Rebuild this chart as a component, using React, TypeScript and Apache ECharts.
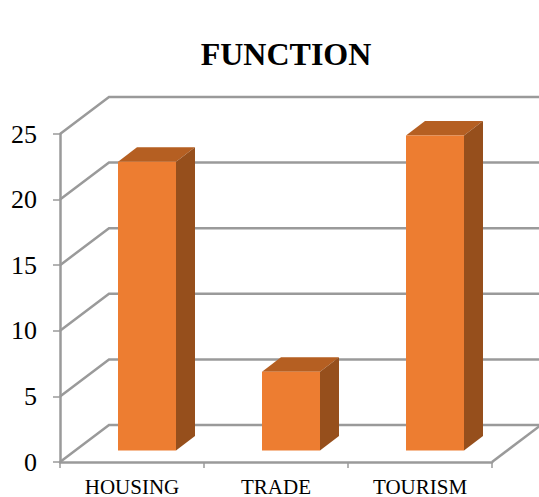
import React, { useEffect, useRef } from "react";
import * as echarts from "echarts";

const title = "FUNCTION";
const categories = ["HOUSING", "TRADE", "TOURISM"];
const values = [22, 6, 24];
const yTicks = [0, 5, 10, 15, 20, 25];

const GREY = "#9a9a9a";
const FRONT = "#ED7D31";
const TOP = "#B55F22";
const SIDE = "#964F1C";
const SERIF = '"Liberation Serif", "Times New Roman", serif';

const depthX = 49;
const depthY = 37;

export default function App() {
  const ref = useRef<HTMLDivElement>(null);
  useEffect(() => {
    const chart = echarts.init(ref.current!, undefined, { renderer: "svg" });
    chart.setOption({
      animation: false,
      title: {
        text: title,
        left: 281,
        textAlign: "center",
        top: 33,
        textStyle: { fontFamily: SERIF, fontSize: 32, fontWeight: "bold", color: "#000" },
      },
      grid: { left: 60, top: 134, width: 432, height: 328, containLabel: false },
      xAxis: {
        type: "category",
        data: categories,
        boundaryGap: true,
        axisLine: { show: true, lineStyle: { color: GREY, width: 2.5 } },
        axisTick: { show: true, length: 6, lineStyle: { color: GREY, width: 1.5 } },
        axisLabel: { fontFamily: SERIF, fontSize: 21, color: "#000", margin: 14 },
        splitLine: { show: false },
      },
      yAxis: {
        type: "value",
        min: 0,
        max: 25,
        interval: 5,
        axisLine: { show: true, lineStyle: { color: GREY, width: 2.5 } },
        axisTick: { show: true, length: 7, lineStyle: { color: GREY, width: 1.5 } },
        axisLabel: { fontFamily: SERIF, fontSize: 26, color: "#000", margin: 23, padding: [2, 0, 0, 0] },
        splitLine: { show: false },
      },
      series: [
        {
          type: "custom",
          silent: true,
          z: 1,
          clip: false,
          data: yTicks.map((t) => [0, t]),
          encode: { x: 0, y: 1 },
          renderItem: (_p: any, api: any) => {
            const band = api.size([1, 0])[0];
            const [cx, y] = api.coord([0, api.value(1)]);
            const x0 = cx - band / 2;
            const x1 = x0 + band * categories.length;
            const children: any[] = [
              {
                type: "polyline",
                shape: {
                  points: [
                    [x0, y],
                    [x0 + depthX, y - depthY],
                    [x1 + depthX, y - depthY],
                  ],
                },
                style: { fill: "none", stroke: GREY, lineWidth: 2.5 },
              },
            ];
            if (api.value(1) === 0) {
              children.push({
                type: "line",
                shape: { x1: x1, y1: y, x2: x1 + depthX, y2: y - depthY },
                style: { stroke: GREY, lineWidth: 2.5 },
              });
            }
            return { type: "group", children };
          },
        },
        {
          type: "custom",
          silent: true,
          z: 2,
          clip: false,
          data: values.map((v, i) => [i, v]),
          encode: { x: 0, y: 1 },
          renderItem: (_p: any, api: any) => {
            const [cx, yTop] = api.coord([api.value(0), api.value(1)]);
            const [, yBase] = api.coord([api.value(0), 0]);
            const shiftX = 15;
            const shiftY = 11.5;
            const w = 58;
            const dx = 19;
            const dy = 14.5;
            const l = cx + shiftX - w / 2;
            const r = l + w;
            const t = yTop - shiftY;
            const b = yBase - shiftY;
            return {
              type: "group",
              children: [
                {
                  type: "polygon",
                  shape: { points: [[l, t], [l + dx, t - dy], [r + dx, t - dy], [r, t]] },
                  style: { fill: TOP },
                },
                {
                  type: "polygon",
                  shape: { points: [[r, t], [r + dx, t - dy], [r + dx, b - dy], [r, b]] },
                  style: { fill: SIDE },
                },
                {
                  type: "rect",
                  shape: { x: l, y: t, width: w, height: b - t },
                  style: { fill: FRONT },
                },
              ],
            };
          },
        },
      ],
    });
    return () => chart.dispose();
  }, []);
  return (
    <div
      ref={ref}
      style={{ position: "absolute", left: 0, top: 0, width: 539, height: 497, background: "#fff" }}
    />
  );
}
